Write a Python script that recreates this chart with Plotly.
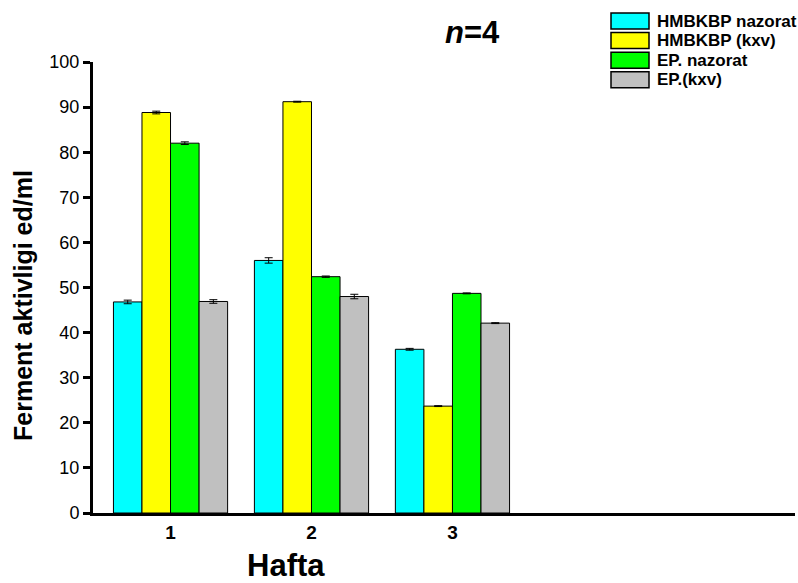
import plotly.graph_objects as go

weeks = [1, 2, 3]
series_names = ["HMBKBP nazorat", "HMBKBP (kxv)", "EP. nazorat", "EP.(kxv)"]
hmbkbp_nazorat = [46.8, 56.0, 36.3]
hmbkbp_kxv = [88.8, 91.2, 23.7]
ep_nazorat = [82.0, 52.4, 48.7]
ep_kxv = [46.9, 48.0, 42.1]
err_hmbkbp_nazorat = [0.4, 0.6, 0.2]
err_hmbkbp_kxv = [0.3, 0.1, 0.1]
err_ep_nazorat = [0.3, 0.15, 0.1]
err_ep_kxv = [0.4, 0.5, 0.1]
colors = ["#00FFFF", "#FFFF00", "#00FF00", "#C0C0C0"]

values = [hmbkbp_nazorat, hmbkbp_kxv, ep_nazorat, ep_kxv]
errors = [err_hmbkbp_nazorat, err_hmbkbp_kxv, err_ep_nazorat, err_ep_kxv]

FONT = "Arial, Liberation Sans, sans-serif"
W, H = 798, 583
ML, MR, MT, MB = 93, 3, 62, 70
PW, PH = W - ML - MR, H - MT - MB


def px_x(px):
    return (px - ML) / PW


def px_y(py):
    return (H - MB - py) / PH


fig = go.Figure()
for name, vals, errs, col in zip(series_names, values, errors, colors):
    fig.add_trace(go.Bar(
        x=weeks, y=vals, name=name,
        marker=dict(color=col, line=dict(color="black", width=1)),
        error_y=dict(type="data", array=errs, visible=True, color="black",
                     thickness=1, width=4),
    ))

# custom legend (wide swatches as in the reference)
shapes = []
annotations = []
for i, (name, col) in enumerate(zip(series_names, colors)):
    top = 13 + i * 19.6
    shapes.append(dict(
        type="rect", xref="paper", yref="paper",
        x0=px_x(611), x1=px_x(649), y0=px_y(top + 16), y1=px_y(top),
        fillcolor=col, line=dict(color="black", width=1.5),
    ))
    annotations.append(dict(
        text=name, x=px_x(655), y=px_y(top + 8), xref="paper", yref="paper",
        xanchor="left", yanchor="middle", showarrow=False,
        font=dict(family=FONT, size=17, color="black", weight="bold"),
    ))

annotations.append(dict(
    text="<i>n</i>=4", x=px_x(472), y=px_y(32), xref="paper", yref="paper",
    xanchor="center", yanchor="middle", showarrow=False,
    font=dict(family=FONT, size=31, color="black", weight="bold"),
))
annotations.append(dict(
    text="Hafta", x=px_x(286), y=px_y(565), xref="paper", yref="paper",
    xanchor="center", yanchor="middle", showarrow=False,
    font=dict(family=FONT, size=31, color="black", weight="bold"),
))
annotations.append(dict(
    text="Ferment aktivligi ed/ml", x=px_x(23), y=px_y(306), xref="paper", yref="paper",
    xanchor="center", yanchor="middle", showarrow=False, textangle=-90,
    font=dict(family=FONT, size=25, color="black", weight="bold"),
))

fig.update_layout(
    width=W, height=H,
    barmode="group", bargap=0.19, bargroupgap=0,
    plot_bgcolor="white", paper_bgcolor="white",
    margin=dict(l=ML, r=MR, t=MT, b=MB, autoexpand=False),
    font=dict(family=FONT, color="black"),
    showlegend=False,
    shapes=shapes,
    annotations=annotations,
)

fig.update_xaxes(
    range=[0.45, 5.43], tickvals=weeks, ticktext=[str(w) for w in weeks],
    tickfont=dict(family=FONT, size=19, color="black", weight="bold"),
    showline=True, linecolor="black", linewidth=3, ticks="outside",
    ticklen=0, tickcolor="white",
    showgrid=False, zeroline=False, automargin=False,
)
fig.update_yaxes(
    range=[0, 100], dtick=10,
    tickfont=dict(family=FONT, size=18, color="black"),
    showline=True, linecolor="black", linewidth=3,
    ticks="outside", ticklen=7, tickwidth=3, tickcolor="black",
    showgrid=False, zeroline=False, automargin=False,
)

fig.write_html(
    "out.html",
    config={"displayModeBar": False},
    post_script="document.body.style.margin='0px';document.body.style.overflow='hidden';",
)
